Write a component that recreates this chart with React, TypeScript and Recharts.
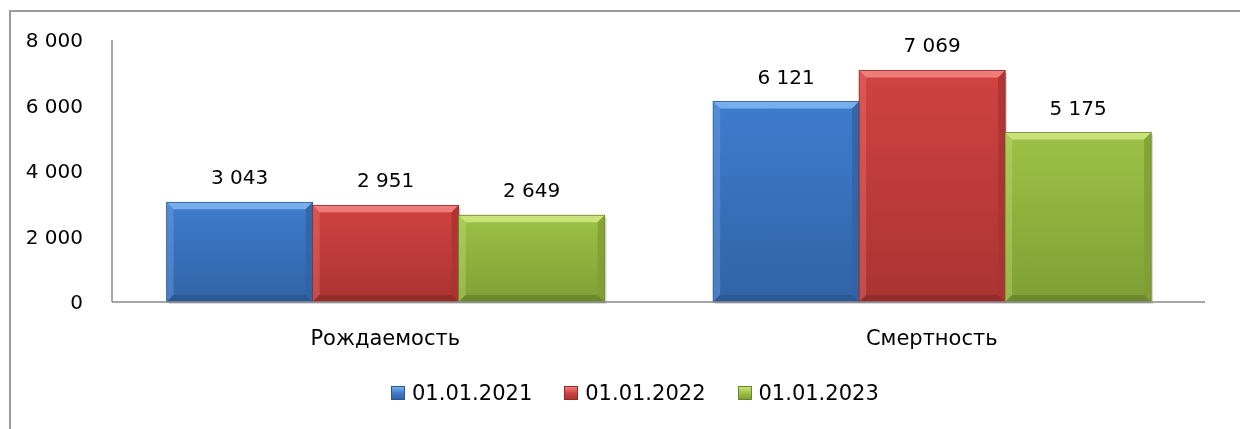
// Births vs deaths, three reporting dates, Excel-style bevelled bars
import { BarChart, Bar, XAxis, YAxis, Legend, LabelList } from "recharts";

const categories = ["Рождаемость", "Смертность"];
const values2021 = [3043, 6121];
const values2022 = [2951, 7069];
const values2023 = [2649, 5175];
const yTicks = [0, 2000, 4000, 6000, 8000];

const SERIES = [
  { key: "d2021", name: "01.01.2021", values: values2021, base: "#3f7ccd", light: "#78aeec", dark: "#3163a6", edge: "#2b5790" },
  { key: "d2022", name: "01.01.2022", values: values2022, base: "#d04341", light: "#ee7d7a", dark: "#a93432", edge: "#8f2b29" },
  { key: "d2023", name: "01.01.2023", values: values2023, base: "#9cc246", light: "#c9e27a", dark: "#7f9f35", edge: "#6a852b" },
];

const chartData = categories.map((name, i) => {
  const row: Record<string, string | number> = { name };
  SERIES.forEach((s) => {
    row[s.key] = s.values[i];
  });
  return row;
});

const FONT = "'DejaVu Sans', sans-serif";

// 3 043 style thousands separator
const fmt = (v: number) => String(v).replace(/\B(?=(\d{3})+(?!\d))/g, " ");

function makeBevel(s: (typeof SERIES)[number]) {
  return function BevelBar(props: any) {
    const { x, y, width: w, height: h } = props;
    if (!w || !h || h <= 0) return null;
    const b = Math.min(7, w / 4, h / 4);
    const gid = `grad-${s.key}`;
    return (
      <g>
        <defs>
          <linearGradient id={gid} x1="0" y1="0" x2="0" y2="1">
            <stop offset="0%" stopColor={s.base} />
            <stop offset="100%" stopColor={s.dark} />
          </linearGradient>
        </defs>
        {/* soft shadow */}
        <rect x={x + 2} y={y + 2} width={w} height={h} fill="#000" opacity={0.15} />
        <rect x={x} y={y} width={w} height={h} fill={`url(#${gid})`} />
        <polygon points={`${x},${y} ${x + w},${y} ${x + w - b},${y + b} ${x + b},${y + b}`} fill={s.light} />
        <polygon points={`${x},${y} ${x + b},${y + b} ${x + b},${y + h - b} ${x},${y + h}`} fill={s.light} opacity={0.35} />
        <polygon points={`${x + w},${y} ${x + w},${y + h} ${x + w - b},${y + h - b} ${x + w - b},${y + b}`} fill={s.dark} opacity={0.85} />
        <polygon points={`${x},${y + h} ${x + b},${y + h - b} ${x + w - b},${y + h - b} ${x + w},${y + h}`} fill={s.edge} opacity={0.85} />
        <rect x={x} y={y} width={w} height={h} fill="none" stroke={s.edge} strokeWidth={0.8} />
      </g>
    );
  };
}

function LegendContent() {
  return (
    <div style={{ display: "flex", alignItems: "center", fontFamily: FONT, fontSize: 21, color: "#000" }}>
      {SERIES.map((s, i) => (
        <div key={s.key} style={{ display: "flex", alignItems: "center", marginRight: i < SERIES.length - 1 ? 32 : 0 }}>
          <span
            style={{
              display: "inline-block",
              width: 14,
              height: 14,
              marginRight: 7,
              background: `linear-gradient(${s.light}, ${s.base} 50%, ${s.dark})`,
              border: `1px solid ${s.edge}`,
              boxSizing: "border-box",
            }}
          />
          <span style={{ lineHeight: "24px" }}>{s.name}</span>
        </div>
      ))}
    </div>
  );
}

export default function App() {
  return (
    <div>
      <div
        style={{
          position: "fixed",
          left: 9,
          top: 10,
          width: 1300,
          height: 500,
          borderTop: "2px solid #9c9c9c",
          borderLeft: "2px solid #9c9c9c",
        }}
      />
      <div style={{ position: "relative" }}>
        <BarChart
          width={1224}
          height={421}
          data={chartData}
          margin={{ top: 32, right: 27, left: 0, bottom: 97 }}
          barCategoryGap="10%"
          barGap={0}
          style={{ fontFamily: FONT }}
        >
          <XAxis
            dataKey="name"
            axisLine={{ stroke: "#8a8a8a", strokeWidth: 1.5 }}
            tickLine={false}
            tickSize={0}
            tickMargin={28}
            tick={{ fill: "#000", fontSize: 21 }}
          />
          <YAxis
            width={104}
            domain={[0, 8000]}
            ticks={yTicks}
            axisLine={{ stroke: "#8a8a8a", strokeWidth: 1.5 }}
            tickLine={false}
            tickSize={0}
            tickMargin={29}
            tickFormatter={(v: number) => fmt(v)}
            tick={{ fill: "#000", fontSize: 20 }}
          />
          <Legend
            layout="horizontal"
            verticalAlign="middle"
            align="center"
            wrapperStyle={{ top: 373, left: 383, width: "auto" }}
            content={<LegendContent />}
          />
          {SERIES.map((s) => (
            <Bar key={s.key} dataKey={s.key} name={s.name} fill={s.base} shape={makeBevel(s)} isAnimationActive={false}>
              <LabelList
                dataKey={s.key}
                position="top"
                offset={18}
                formatter={(v: any) => fmt(Number(v))}
                style={{ fill: "#000", fontSize: 20, fontFamily: FONT }}
              />
            </Bar>
          ))}
        </BarChart>
      </div>
    </div>
  );
}
